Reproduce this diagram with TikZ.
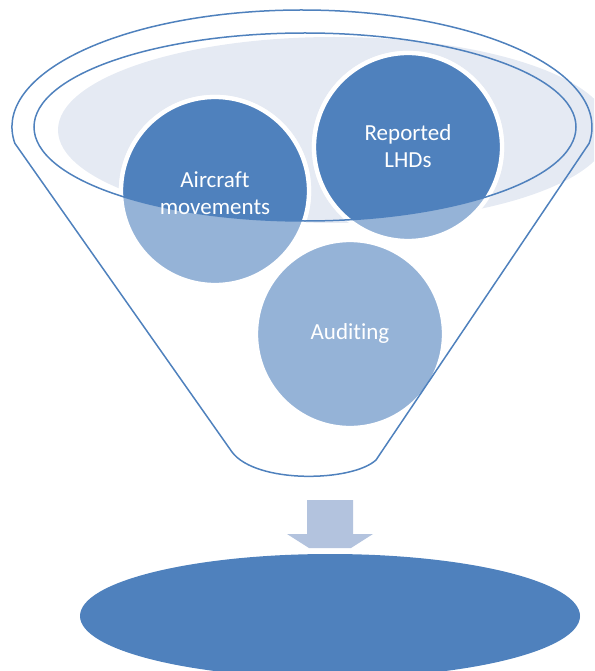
\documentclass[tikz,border=0pt]{standalone}
\usepackage{fontspec}
\setmainfont{Carlito}[Ligatures=NoCommon]
\definecolor{accent}{HTML}{4F81BD}
\definecolor{accentlight}{HTML}{95B3D7}
\definecolor{rimfill}{HTML}{E5EAF3}
\definecolor{arrowfill}{HTML}{B3C3DE}
\begin{document}
\begin{tikzpicture}[x=1pt,y=-1pt,
  outline/.style={draw=accent, line width=1.5pt},
  ball/.style={fill=accentlight, draw=white, line width=4.3pt},
  balldark/.style={fill=accent, draw=white, line width=4.3pt},
  lbl/.style={text=white, font=\fontsize{23}{26.5}\selectfont, align=center}]
\useasboundingbox (0,0) rectangle (594,671);
\clip (0,0) rectangle (594,671);

% centres of the shapes
\coordinate (rim) at (334,130);
\coordinate (mouth) at (305,127);
\coordinate (top) at (302,127);
\coordinate (ballA) at (215,191);
\coordinate (ballR) at (408,147);
\coordinate (ballU) at (350,334);
\coordinate (result) at (330,616);

% shaded inside of the funnel mouth
\fill[rimfill] (rim) ellipse[x radius=276, y radius=93];

% the three items, pale where they sit below the mouth
\path[ball] (ballA) circle[radius=94];
\path[ball] (ballR) circle[radius=94];
\path[ball] (ballU) circle[radius=94];

% darker parts inside the mouth
\begin{scope}
  \clip (mouth) ellipse[x radius=271, y radius=94];
  \path[balldark] (ballA) circle[radius=94];
  \path[balldark] (ballR) circle[radius=94];
\end{scope}

% funnel outline
\draw[outline] (mouth) ellipse[x radius=271, y radius=94];
\draw[outline] (top) ++(172:290 and 117)
  arc[start angle=172, end angle=368, x radius=290, y radius=117]
  -- (376,460) .. controls (352,482) and (256,484) .. (232,452) -- cycle;

% item labels
\node[lbl] (tA) at (215,193) {Aircraft\\movements};
\node[lbl] (tR) at (408,146) {Reported\\LHDs};
\node[lbl] (tU) at (350,333) {Auditing};

% arrow and result
\fill[arrowfill] (307,500) -- (353,500) -- (353,534) -- (373,534) -- (351,548)
  -- (309,548) -- (287,534) -- (307,534) -- cycle;
\fill[accent] (result) ellipse[x radius=250, y radius=62];
\end{tikzpicture}
\end{document}
